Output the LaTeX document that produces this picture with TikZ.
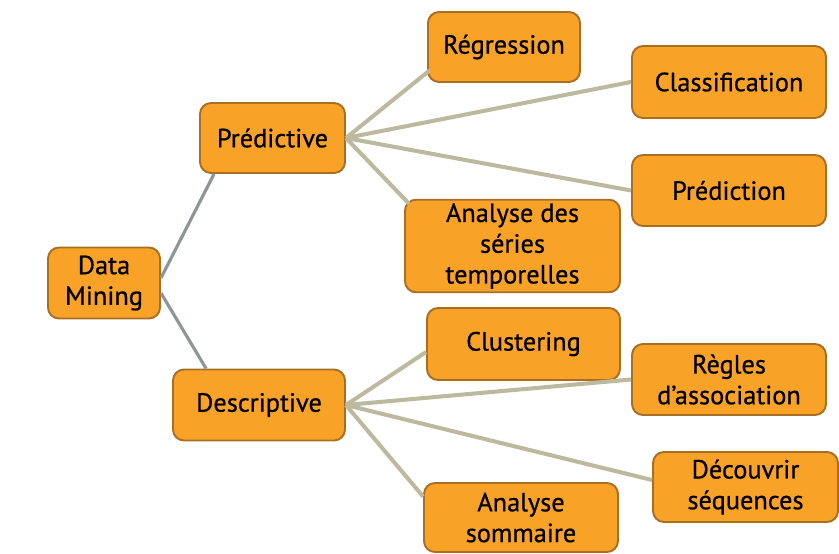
\documentclass[tikz,border=0pt]{standalone}
\usepackage{fontspec}
\setmainfont{PT Sans}[FakeBold=0.6]
\usepackage{xcolor}
\usetikzlibrary{positioning}
\definecolor{boxfill}{HTML}{F9A228}
\definecolor{boxline}{HTML}{A86E22}
\definecolor{branch}{HTML}{BDB99F}
\definecolor{trunk}{HTML}{8E9598}
\tikzset{boite/.style={rectangle,rounded corners=0.22cm,draw=boxline,line width=1.1pt,fill=boxfill,align=center,font=\fontsize{15}{17.5}\selectfont,inner sep=2pt}}

\begin{document}
\begin{tikzpicture}[branchline/.style={draw=branch,line width=2.3pt},trunkline/.style={draw=trunk,line width=1.8pt}]
\useasboundingbox (0,0) rectangle (16.78,-11.06);
% \draw[help lines] (0,0) grid (17,-11);
\node (dm) [boite,minimum width=2.24cm,minimum height=1.42cm] at (2.08,-5.66) {Data\\Mining};
\node (pred) [boite,minimum width=2.9cm,minimum height=1.4cm] at (5.45,-2.76) {Prédictive};
\node (desc) [boite,minimum width=3.44cm,minimum height=1.42cm] at (5.18,-8.1) {Descriptive};
%
\node (reg) [boite,minimum width=3.04cm,minimum height=1.4cm] at (10.08,-0.94) {Régression};
\node (cla) [boite,minimum width=3.88cm,minimum height=1.44cm] at (14.58,-1.64) {Classification};
\node (prd) [boite,minimum width=3.88cm,minimum height=1.42cm] at (14.58,-3.81) {Prédiction};
\node (ast) [boite,minimum width=4.3cm,minimum height=1.84cm] at (10.25,-4.92) {Analyse des\\séries\\temporelles};
%
\node (clu) [boite,minimum width=3.86cm,minimum height=1.44cm] at (10.47,-6.88) {Clustering};
\node (ra) [boite,minimum width=3.88cm,minimum height=1.42cm] at (14.58,-7.59) {Règles\\d’association};
\node (ds) [boite,minimum width=3.7cm,minimum height=1.4cm] at (14.91,-9.74) {Découvrir\\séquences};
\node (as) [boite,minimum width=3.88cm,minimum height=1.38cm] at (10.42,-10.35) {Analyse\\sommaire};
%
\path[trunkline] ([yshift=0.1cm]dm.east) edge ([xshift=0.3cm]pred.south west);
\path[trunkline] ([yshift=-0.2cm]dm.east) edge ([xshift=0.68cm]desc.north west);
%
\path[branchline] (pred.east) edge ([xshift=0.05cm,yshift=0.25cm]reg.south west);
\path[branchline] (pred.east) edge (cla.west);
\path[branchline] (pred.east) edge (prd.west);
\path[branchline] (pred.east) edge ([xshift=0.1cm,yshift=-0.1cm]ast.north west);
%
\path[branchline] (desc.east) edge ([yshift=-0.16cm]clu.west);
\path[branchline] (desc.east) edge (ra.west);
\path[branchline] (desc.east) edge ([yshift=0.14cm]ds.west);
\path[branchline] (desc.east) edge ([yshift=0.42cm]as.west);
\end{tikzpicture}
\end{document}
